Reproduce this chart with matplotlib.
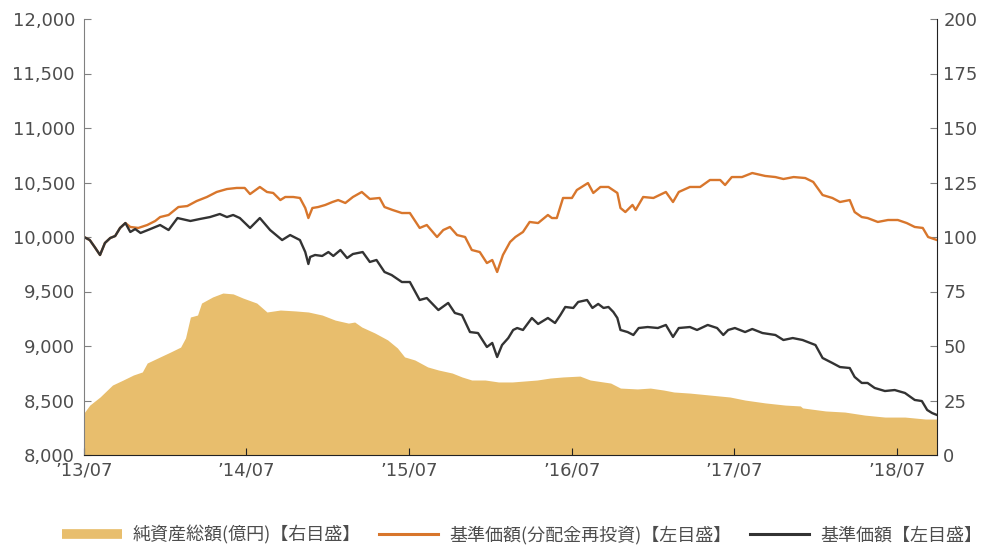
import pandas as pd
import matplotlib
matplotlib.use("Agg")
import matplotlib.pyplot as plt
import matplotlib.dates as mdates
from matplotlib.lines import Line2D

plt.rcParams['font.family'] = ['Noto Sans CJK JP', 'DejaVu Sans']

# 基準価額 (left axis)
nav_dates = ["2013-07-01", "2013-07-14", "2013-07-25", "2013-08-06", "2013-08-17", "2013-08-29",
             "2013-09-09", "2013-09-20", "2013-10-02", "2013-10-13", "2013-10-24", "2013-11-05",
             "2013-11-27", "2013-12-19", "2014-01-07", "2014-01-27", "2014-02-25", "2014-03-18",
             "2014-04-10", "2014-05-02", "2014-05-18", "2014-06-01", "2014-06-16", "2014-07-09",
             "2014-07-31", "2014-08-23", "2014-09-19", "2014-10-07", "2014-10-29", "2014-11-10",
             "2014-11-17", "2014-11-21", "2014-12-02", "2014-12-18", "2015-01-01", "2015-01-12",
             "2015-01-28", "2015-02-12", "2015-02-25", "2015-03-19", "2015-04-04", "2015-04-19",
             "2015-05-07", "2015-05-23", "2015-06-15", "2015-07-03", "2015-07-25", "2015-08-10",
             "2015-09-05", "2015-09-27", "2015-10-12", "2015-10-28", "2015-11-15", "2015-12-03",
             "2015-12-23", "2016-01-04", "2016-01-15", "2016-01-26", "2016-02-09", "2016-02-20",
             "2016-02-29", "2016-03-13", "2016-04-02", "2016-04-16", "2016-05-08", "2016-05-24",
             "2016-06-05", "2016-06-16", "2016-07-04", "2016-07-15", "2016-08-04", "2016-08-16",
             "2016-08-29", "2016-09-10", "2016-09-21", "2016-10-02", "2016-10-11", "2016-10-18",
             "2016-11-03", "2016-11-16", "2016-11-28", "2016-12-18", "2017-01-10", "2017-01-28",
             "2017-02-13", "2017-02-26", "2017-03-23", "2017-04-08", "2017-05-02", "2017-05-23",
             "2017-06-06", "2017-06-17", "2017-07-02", "2017-07-25", "2017-08-10", "2017-09-02",
             "2017-10-01", "2017-10-19", "2017-11-09", "2017-12-01", "2017-12-30", "2018-01-15",
             "2018-02-06", "2018-02-23", "2018-03-17", "2018-03-28", "2018-04-13", "2018-04-26",
             "2018-05-12", "2018-06-04", "2018-06-26", "2018-07-19", "2018-08-10", "2018-08-26",
             "2018-09-07", "2018-09-18", "2018-09-29"]
nav = [10000, 9972, 9908, 9835, 9945, 9991,
       10009, 10083, 10128, 10046, 10073, 10037,
       10073, 10110, 10064, 10174, 10147, 10165,
       10183, 10211, 10183, 10202, 10174, 10083,
       10174, 10064, 9972, 10018, 9972, 9862,
       9752, 9817, 9835, 9826, 9862, 9826,
       9881, 9807, 9844, 9862, 9771, 9789,
       9679, 9651, 9587, 9587, 9422, 9440,
       9330, 9395, 9303, 9284, 9128, 9119,
       8991, 9028, 8899, 9009, 9073, 9147,
       9165, 9147, 9257, 9202, 9257, 9211,
       9284, 9358, 9349, 9404, 9422, 9349,
       9386, 9349, 9358, 9312, 9257, 9147,
       9128, 9101, 9165, 9174, 9165, 9193,
       9083, 9165, 9174, 9147, 9193, 9165,
       9101, 9147, 9165, 9128, 9156, 9119,
       9101, 9055, 9073, 9055, 9009, 8890,
       8844, 8807, 8798, 8716, 8661, 8661,
       8615, 8587, 8596, 8569, 8505, 8495,
       8413, 8385, 8367]

# 基準価額(分配金再投資) (left axis)
reinv_dates = ["2013-07-01", "2013-07-14", "2013-07-25", "2013-08-06", "2013-08-17", "2013-08-29",
               "2013-09-09", "2013-09-20", "2013-10-02", "2013-10-13", "2013-10-31", "2013-11-20",
               "2013-12-08", "2013-12-19", "2014-01-07", "2014-01-29", "2014-02-18", "2014-03-11",
               "2014-04-03", "2014-04-25", "2014-05-18", "2014-06-09", "2014-06-27", "2014-07-09",
               "2014-07-31", "2014-08-16", "2014-08-30", "2014-09-15", "2014-09-26", "2014-10-14",
               "2014-10-29", "2014-11-10", "2014-11-17", "2014-11-26", "2014-12-09", "2014-12-25",
               "2015-01-10", "2015-01-23", "2015-02-08", "2015-02-25", "2015-03-17", "2015-04-04",
               "2015-04-26", "2015-05-07", "2015-05-25", "2015-06-15", "2015-07-03", "2015-07-25",
               "2015-08-10", "2015-09-02", "2015-09-16", "2015-10-01", "2015-10-17", "2015-11-04",
               "2015-11-19", "2015-12-07", "2015-12-23", "2016-01-04", "2016-01-15", "2016-01-28",
               "2016-02-13", "2016-02-25", "2016-03-13", "2016-03-28", "2016-04-16", "2016-05-08",
               "2016-05-17", "2016-05-28", "2016-06-11", "2016-07-01", "2016-07-12", "2016-08-06",
               "2016-08-18", "2016-09-03", "2016-09-21", "2016-10-11", "2016-10-18", "2016-10-29",
               "2016-11-14", "2016-11-21", "2016-12-08", "2016-12-31", "2017-01-28", "2017-02-13",
               "2017-02-26", "2017-03-23", "2017-04-15", "2017-05-07", "2017-05-30", "2017-06-10",
               "2017-06-25", "2017-07-18", "2017-08-10", "2017-09-08", "2017-10-01", "2017-10-19",
               "2017-11-11", "2017-12-07", "2017-12-25", "2018-01-15", "2018-02-06", "2018-02-23",
               "2018-03-17", "2018-03-28", "2018-04-13", "2018-04-26", "2018-05-19", "2018-06-11",
               "2018-07-03", "2018-07-23", "2018-08-10", "2018-08-28", "2018-09-09", "2018-09-29"]
reinv = [10000, 9972, 9908, 9835, 9945, 9991,
         10009, 10083, 10128, 10092, 10083, 10110,
         10147, 10183, 10202, 10275, 10284, 10330,
         10367, 10413, 10440, 10450, 10450, 10394,
         10459, 10413, 10404, 10339, 10367, 10367,
         10358, 10266, 10174, 10266, 10275, 10294,
         10321, 10339, 10312, 10367, 10413, 10349,
         10358, 10275, 10248, 10220, 10220, 10083,
         10110, 10000, 10064, 10092, 10018, 10000,
         9881, 9862, 9761, 9789, 9679, 9835,
         9954, 10000, 10046, 10138, 10128, 10202,
         10174, 10174, 10358, 10358, 10431, 10495,
         10404, 10459, 10459, 10404, 10266, 10229,
         10294, 10248, 10367, 10358, 10413, 10321,
         10413, 10459, 10459, 10523, 10523, 10477,
         10550, 10550, 10587, 10560, 10550, 10532,
         10550, 10541, 10505, 10385, 10358, 10321,
         10339, 10229, 10183, 10174, 10138, 10156,
         10156, 10128, 10092, 10083, 10000, 9972]

# 純資産総額(億円) (right axis)
aum_dates = ["2013-07-01", "2013-07-14", "2013-08-06", "2013-09-03", "2013-09-27", "2013-10-20",
             "2013-11-09", "2013-11-20", "2013-12-19", "2014-01-11", "2014-02-03", "2014-02-14",
             "2014-02-25", "2014-03-13", "2014-03-22", "2014-04-16", "2014-05-09", "2014-06-01",
             "2014-06-23", "2014-07-24", "2014-08-16", "2014-09-15", "2014-10-18", "2014-11-17",
             "2014-12-18", "2015-01-16", "2015-02-15", "2015-03-01", "2015-03-17", "2015-04-15",
             "2015-05-14", "2015-06-05", "2015-06-21", "2015-07-14", "2015-08-12", "2015-09-05",
             "2015-10-06", "2015-10-28", "2015-11-19", "2015-12-19", "2016-01-18", "2016-02-18",
             "2016-04-14", "2016-05-13", "2016-06-11", "2016-07-19", "2016-08-11", "2016-09-26",
             "2016-10-18", "2016-11-25", "2016-12-24", "2017-01-23", "2017-02-15", "2017-03-23",
             "2017-05-07", "2017-06-21", "2017-07-25", "2017-09-08", "2017-10-23", "2017-11-26",
             "2017-12-01", "2018-01-22", "2018-03-06", "2018-04-20", "2018-06-04", "2018-07-19",
             "2018-09-03", "2018-09-29"]
aum = [19.3, 22.9, 26.6, 32.1, 34.4, 36.7,
       38.1, 42.2, 45.0, 47.2, 49.5, 53.7,
       63.3, 64.2, 69.7, 72.5, 74.3, 73.9,
       72.0, 69.7, 65.6, 66.5, 66.1, 65.6,
       64.2, 61.9, 60.5, 61.0, 58.7, 56.0,
       52.8, 49.1, 45.0, 43.6, 40.4, 39.0,
       37.6, 35.8, 34.4, 34.4, 33.5, 33.5,
       34.4, 35.3, 35.8, 36.2, 34.4, 33.0,
       30.7, 30.3, 30.7, 29.8, 28.9, 28.4,
       27.5, 26.6, 25.2, 23.9, 22.9, 22.5,
       21.6, 20.2, 19.7, 18.3, 17.4, 17.4,
       16.5, 16.5]

left_ticks = [8000, 8500, 9000, 9500, 10000, 10500, 11000, 11500, 12000]
right_ticks = [0, 25, 50, 75, 100, 125, 150, 175, 200]
labels = ["純資産総額(億円)【右目盛】", "基準価額(分配金再投資)【左目盛】", "基準価額【左目盛】"]

c_area = "#E8BE6D"
c_orange = "#D8762C"
c_black = "#333333"
c_text = "#4D4D4D"

fig = plt.figure(figsize=(9.81, 5.45), dpi=100)
ax = fig.add_axes([84 / 981, 1 - 455 / 545, (937 - 84) / 981, (455 - 19) / 545])
ax2 = ax.twinx()

ax2.fill_between(pd.to_datetime(aum_dates), aum, 0, color=c_area, linewidth=0)
ax.plot(pd.to_datetime(reinv_dates), reinv, color=c_orange, lw=1.7)
ax.plot(pd.to_datetime(nav_dates), nav, color=c_black, lw=1.7)

# lines above the area
ax.set_zorder(ax2.get_zorder() + 1)
ax.patch.set_visible(False)

ax.set_xlim(pd.Timestamp("2013-07-01"), pd.Timestamp("2018-09-29"))
ax.set_ylim(8000, 12000)
ax2.set_ylim(0, 200)
ax.set_yticks(left_ticks)
ax.set_yticklabels([f"{v:,}" for v in left_ticks])
ax2.set_yticks(right_ticks)
ax.xaxis.set_major_locator(mdates.MonthLocator(bymonth=7))
ax.xaxis.set_major_formatter(mdates.DateFormatter("\u2019%y/%m"))

for a in (ax, ax2):
    a.spines['top'].set_visible(False)
ax.spines['left'].set_color("#808080")
ax.spines['right'].set_visible(False)
ax2.spines['left'].set_visible(False)
ax2.spines['right'].set_color("#222222")
ax2.spines['bottom'].set_visible(False)
ax.spines['bottom'].set_color("#222222")

ax.tick_params(axis='y', direction='in', length=5, pad=6.5, labelsize=13, labelcolor=c_text, color="#808080")
ax.tick_params(axis='x', direction='in', length=5, pad=5, labelsize=13, labelcolor=c_text, color="#222222")
ax2.tick_params(axis='y', direction='in', length=5, pad=4.5, labelsize=13, labelcolor=c_text, color="#808080")
for t in ax.get_xticklabels() + ax.get_yticklabels() + ax2.get_yticklabels():
    t.set_family("DejaVu Sans")

handles = [Line2D([], [], color=c_area, lw=7, solid_capstyle='butt'),
           Line2D([], [], color=c_orange, lw=2.2),
           Line2D([], [], color=c_black, lw=2.2)]
leg = fig.legend(handles, labels, loc='center', bbox_to_anchor=(522 / 981, 1 - 535 / 545), ncol=3,
                 frameon=False, fontsize=13, handlelength=3.3, handletextpad=0.6, columnspacing=1.0)
for t in leg.get_texts():
    t.set_color(c_text)

fig.savefig("out.png", dpi=100)
